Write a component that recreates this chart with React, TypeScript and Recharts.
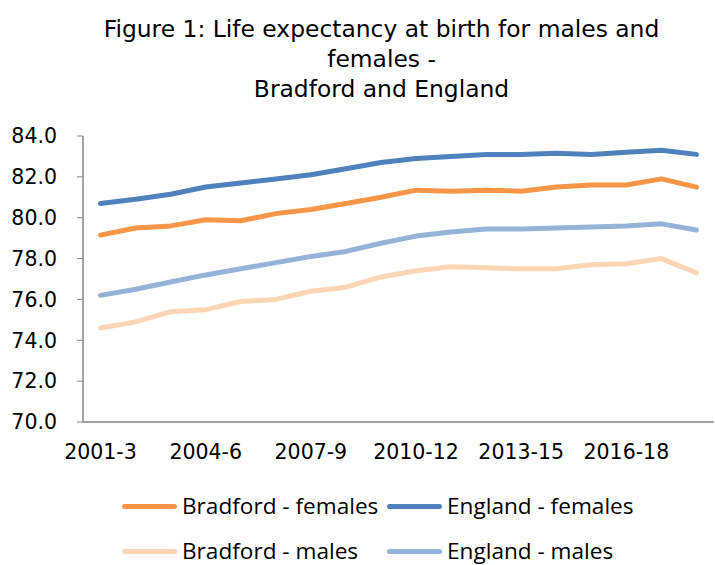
import React from 'react';
import { LineChart, Line, XAxis, YAxis } from 'recharts';

const periods = [
  '2001-3', '2002-4', '2003-5', '2004-6', '2005-7', '2006-8', '2007-9', '2008-10', '2009-11',
  '2010-12', '2011-13', '2012-14', '2013-15', '2014-16', '2015-17', '2016-18', '2017-19', '2018-20',
];
const bradfordFemales = [79.15, 79.5, 79.6, 79.9, 79.85, 80.2, 80.4, 80.7, 81.0, 81.35, 81.3, 81.35, 81.3, 81.5, 81.6, 81.6, 81.9, 81.5];
const englandFemales = [80.7, 80.9, 81.15, 81.5, 81.7, 81.9, 82.1, 82.4, 82.7, 82.9, 83.0, 83.1, 83.1, 83.15, 83.1, 83.2, 83.3, 83.1];
const bradfordMales = [74.6, 74.9, 75.4, 75.5, 75.9, 76.0, 76.4, 76.6, 77.1, 77.4, 77.6, 77.55, 77.5, 77.5, 77.7, 77.75, 78.0, 77.3];
const englandMales = [76.2, 76.5, 76.85, 77.2, 77.5, 77.8, 78.1, 78.35, 78.75, 79.1, 79.3, 79.45, 79.45, 79.5, 79.55, 79.6, 79.7, 79.4];
const yTicks = [70, 72, 74, 76, 78, 80, 82, 84];
const edgeTicks = periods.map((_, i) => i).concat([periods.length]);

const series = [
  { key: 'bradfordFemales', name: 'Bradford - females', color: '#F79646' },
  { key: 'englandFemales', name: 'England - females', color: '#4F81BD' },
  { key: 'bradfordMales', name: 'Bradford - males', color: '#FCD5B5' },
  { key: 'englandMales', name: 'England - males', color: '#95B3D7' },
];

const data = periods.map((period, i) => ({
  period,
  bradfordFemales: bradfordFemales[i],
  englandFemales: englandFemales[i],
  bradfordMales: bradfordMales[i],
  englandMales: englandMales[i],
}));

const axisColor = '#868686';
const tickFont = { fontFamily: 'DejaVu Sans, sans-serif', fontSize: 20.5, fill: '#000' };

export default function App() {
  return (
    <div style={{ position: 'absolute', left: 0, top: 0, width: 715, height: 565, background: '#fff' }}>
      <div
        style={{
          position: 'absolute',
          left: 81.5,
          top: 13.6,
          width: 600,
          textAlign: 'center',
          fontFamily: 'DejaVu Sans, sans-serif',
          fontSize: 23.4,
          lineHeight: '30px',
          color: '#000',
        }}
      >
        Figure 1: Life expectancy at birth for males and
        <br />
        females -
        <br />
        Bradford and England
      </div>
      <LineChart width={715} height={565} data={data} margin={{ top: 136, right: 1, left: 0, bottom: 113 }}>
        <XAxis
          xAxisId="edge"
          type="number"
          domain={[0, periods.length]}
          ticks={edgeTicks}
          tick={false}
          axisLine={false}
          tickLine={{ stroke: axisColor }}
          tickSize={7}
          height={0}
        />
        <XAxis
          xAxisId="cat"
          dataKey="period"
          scale="band"
          interval={2}
          tickLine={false}
          axisLine={{ stroke: axisColor, strokeWidth: 1.5 }}
          tickSize={7}
          tickMargin={15}
          tick={tickFont}
          height={30}
        />
        <YAxis
          domain={[70, 84]}
          ticks={yTicks}
          tickFormatter={(v: number) => v.toFixed(1)}
          axisLine={{ stroke: axisColor, strokeWidth: 1.5 }}
          tickLine={{ stroke: axisColor }}
          tickSize={6}
          tickMargin={20}
          tick={tickFont}
          width={83}
          interval={0}
        />
        {series.map((s) => (
          <Line
            key={s.key}
            xAxisId="cat"
            dataKey={s.key}
            name={s.name}
            stroke={s.color}
            strokeWidth={5}
            strokeLinecap="round"
            strokeLinejoin="round"
            dot={false}
            activeDot={false}
            isAnimationActive={false}
          />
        ))}
      </LineChart>
      {series.map((s, i) => {
        const col = i % 2;
        const row = Math.floor(i / 2);
        const left = col === 0 ? 122 : 387;
        const top = row === 0 ? 506 : 551;
        return (
          <div key={s.key} style={{ position: 'absolute', left, top: top - 15, height: 30, display: 'flex', alignItems: 'center' }}>
            <div style={{ width: 55, height: 5, borderRadius: 3, background: s.color, marginRight: 5 }} />
            <span style={{ fontFamily: 'Open Sans, sans-serif', fontSize: 22.6, lineHeight: '26px', color: '#000', whiteSpace: 'nowrap' }}>{s.name}</span>
          </div>
        );
      })}
    </div>
  );
}
